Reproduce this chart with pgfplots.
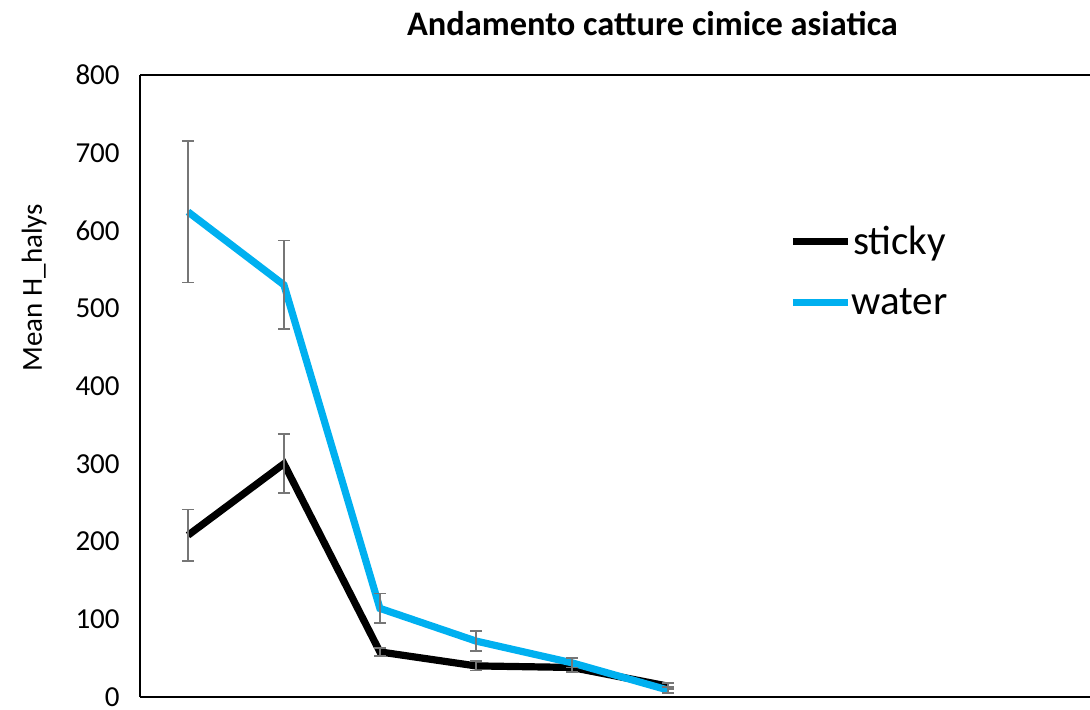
\documentclass[border=0pt]{standalone}
\usepackage{pgfplots}
\pgfplotsset{compat=1.18}
\usepackage{fontspec}
\setmainfont{Carlito}
\definecolor{waterblue}{HTML}{00B0F0}
\definecolor{errgray}{HTML}{767676}

\begin{document}
\begin{tikzpicture}
\begin{axis}[
  scale only axis,
  width=475pt, height=311pt,
  xmin=0.5, xmax=10.4,
  ymin=0, ymax=800,
  ytick={0,100,...,800},
  xtick=\empty,
  axis y line=left,
  axis x line=box,
  axis line style={-, line width=0.9pt},
  major tick length=0pt,
  /pgf/number format/assume math mode=true,
  yticklabel style={font=\fontsize{14.5}{17}\selectfont, xshift=-8pt, inner sep=2pt},
  ylabel={Mean H\_halys},
  ylabel style={at={(axis description cs:-0.098,0.658)}, anchor=south, inner sep=0pt, font=\fontsize{14.5}{17}\selectfont},
  title={Andamento catture cimice asiatica},
  title style={at={(axis description cs:0.5395,1)}, anchor=base, yshift=13.5pt, inner sep=0pt, font=\bfseries\fontsize{17.2}{20}\selectfont},
  legend style={at={(axis description cs:0.683,0.758)}, anchor=north west, draw=none, fill=none,
    font=\fontsize{20.5}{24}\selectfont, row sep=15.5pt, inner sep=0pt,
    nodes={inner sep=0pt, xshift=-1pt}},
  legend image code/.code={\draw[#1] (0pt,0pt) -- (27.5pt,0pt);},
  clip=false,
]
\addplot[black, line width=3.6pt,
  error bars/.cd, y dir=both, y explicit,
  error bar style={errgray, line width=0.8pt},
  error mark options={errgray, rotate=90, mark size=3pt, line width=0.8pt}]
  table[x=x, y=y, y error=e] {
x y e
1 208 33
2 300 38
3 58 5
4 40 6
5 38 6
6 14 4
};
\addlegendentry{sticky}
\addplot[waterblue, line width=3.6pt,
  error bars/.cd, y dir=both, y explicit,
  error bar style={errgray, line width=0.8pt},
  error mark options={errgray, rotate=90, mark size=3pt, line width=0.8pt}]
  table[x=x, y=y, y error=e] {
x y e
1 624 91
2 530 57
3 114 19
4 72 13
5 44 6
6 9 4
};
\addlegendentry{water}
\end{axis}
\pgfresetboundingbox
\path[use as bounding box] ([xshift=-70pt,yshift=-6.5pt]current axis.south west) rectangle ([yshift=37.5pt]current axis.north east);
\end{tikzpicture}
\end{document}
